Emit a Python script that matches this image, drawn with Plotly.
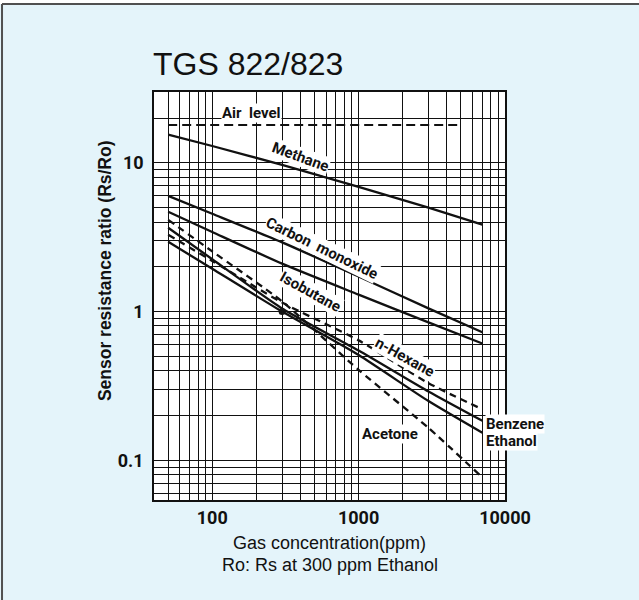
import math
import plotly.graph_objects as go

# ---- data ----
conc = [50, 100, 300, 1000, 3000, 7000]
methane = [15.5, 13.0, 9.7, 6.9, 5.0, 3.84]
carbon_monoxide = [6.0, 4.55, 2.92, 1.72, 1.05, 0.726]
isobutane = [4.69, 3.43, 2.10, 1.30, 0.845, 0.61]
benzene = [3.66, 2.25, 1.05, 0.547, 0.29, 0.184]
n_hexane = [3.29, 2.19, 1.15, 0.64, 0.33, 0.22]
ethanol = [2.95, 1.94, 1.0, 0.51, 0.25, 0.153]
acetone = [4.14, 2.54, 1.17, 0.405, 0.165, 0.0766]
air_conc = [50, 5000]
air_level = [18.0, 18.0]
ref_conc = [300]
ref_ratio = [1.0]

x_grid = [40, 50, 60, 70, 80, 90, 100, 200, 300, 400, 500, 600, 700, 800, 900,
          1000, 2000, 3000, 4000, 5000, 6000, 7000, 8000, 9000, 10000]
x_labels = {100: "100", 1000: "1000", 10000: "10000"}
y_grid = [0.06, 0.07, 0.08, 0.09, 0.1, 0.2, 0.3, 0.4, 0.5, 0.6, 0.7, 0.8, 0.9,
          1, 2, 3, 4, 5, 6, 7, 8, 9, 10, 20, 30]
y_labels = {0.1: "0.1", 1: "1", 10: "10"}
x_range = [40, 10000]
y_range = [0.054, 30]

COND = "Roboto, Liberation Sans, sans-serif"
INK = "#111111"

fig = go.Figure()

def curve(x, y, dash="solid", width=2.3):
    fig.add_trace(go.Scatter(x=x, y=y, mode="lines",
                             line=dict(color=INK, width=width, dash=dash, shape="spline", smoothing=0.6),
                             hoverinfo="skip"))

curve(air_conc, air_level, dash="9px,5px", width=2)
curve(conc, methane)
curve(conc, carbon_monoxide)
curve(conc, isobutane)
curve(conc, benzene)
curve(conc, ethanol)
curve(conc, n_hexane, dash="7px,5px")
curve(conc, acetone, dash="7px,5px")
fig.add_trace(go.Scatter(x=ref_conc, y=ref_ratio, mode="markers",
                         marker=dict(color=INK, size=7), hoverinfo="skip"))

axis_common = dict(type="log", showgrid=True, gridcolor=INK, gridwidth=1,
                   showline=True, linecolor=INK, linewidth=1.5, mirror=True,
                   ticks="", zeroline=False,
                   tickfont=dict(family=COND, size=18, color=INK, weight="bold"))

fig.update_xaxes(range=[math.log10(v) for v in x_range], tickvals=x_grid,
                 ticktext=[x_labels.get(v, "") for v in x_grid],
                 ticklabelstandoff=1, **axis_common)
fig.update_yaxes(range=[math.log10(v) for v in y_range], tickvals=y_grid,
                 ticktext=[y_labels.get(v, "") for v in y_grid],
                 ticklabelstandoff=5, **axis_common)

lab_font = dict(family=COND, size=15, color=INK, weight="bold")
labels = [
    ("Air  level", 186, 18.0, 0, "center", "bottom"),
    ("Methane", 402, 11.0, 20, "center", "middle"),
    ("Carbon  monoxide", 558, 2.69, 26, "center", "middle"),
    ("Isobutane", 470, 1.36, 29, "center", "middle"),
    ("n-Hexane", 2056, 0.491, 29, "center", "middle"),
    ("Acetone", 1626, 0.149, 0, "center", "middle"),
    ("Benzene", 7250, 0.174, 0, "left", "middle"),
    ("Ethanol", 7250, 0.134, 0, "left", "middle"),
]
for text, x, y, ang, xa, ya in labels:
    fig.add_annotation(x=math.log10(x), y=math.log10(y), xref="x", yref="y", text=text,
                       showarrow=False, textangle=ang, xanchor=xa, yanchor=ya,
                       bgcolor="white", borderpad=0, font=lab_font,
                       yshift=2 if ya == "bottom" else 0)

# titles
fig.add_annotation(xref="paper", yref="paper", x=0, y=1, xanchor="left", yanchor="bottom",
                   yshift=8, xshift=-3, text="TGS 822/823", showarrow=False,
                   font=dict(family="Liberation Sans, Arial, sans-serif", size=32, color=INK))
fig.add_annotation(xref="paper", yref="paper", x=0, y=0.561, xanchor="center", yanchor="middle",
                   xshift=-49, textangle=-90, text="Sensor resistance ratio (Rs/Ro)", showarrow=False,
                   font=dict(family="Liberation Sans, Arial, sans-serif", size=17.5, color=INK, weight="bold"))
fig.add_annotation(xref="paper", yref="paper", x=0.5, y=0, xanchor="center", yanchor="middle",
                   yshift=-43, text="Gas concentration(ppm)", showarrow=False,
                   font=dict(family="Liberation Sans, Arial, sans-serif", size=18, color=INK))
fig.add_annotation(xref="paper", yref="paper", x=0.5, y=0, xanchor="center", yanchor="middle",
                   yshift=-65, text="Ro: Rs at 300 ppm Ethanol", showarrow=False,
                   font=dict(family="Liberation Sans, Arial, sans-serif", size=18, color=INK))

# panel frame (top white strip and top/left border)
fig.add_shape(type="rect", xref="paper", yref="paper", x0=-0.5, x1=1.5, y0=1.2157, y1=1.4,
              fillcolor="white", line=dict(width=0), layer="above")
fig.add_shape(type="line", xref="paper", yref="paper", x0=-0.433, x1=1.5, y0=1.2157, y1=1.2157,
              line=dict(color="#505050", width=2), layer="above")
fig.add_shape(type="line", xref="paper", yref="paper", x0=-0.433, x1=-0.433, y0=-0.5, y1=1.2157,
              line=dict(color="#505050", width=2), layer="above")

fig.update_layout(width=639, height=600, margin=dict(l=154, r=134, t=92, b=100),
                  paper_bgcolor="#e4f4fa", plot_bgcolor="white", showlegend=False)

fig.write_html("out.html")
